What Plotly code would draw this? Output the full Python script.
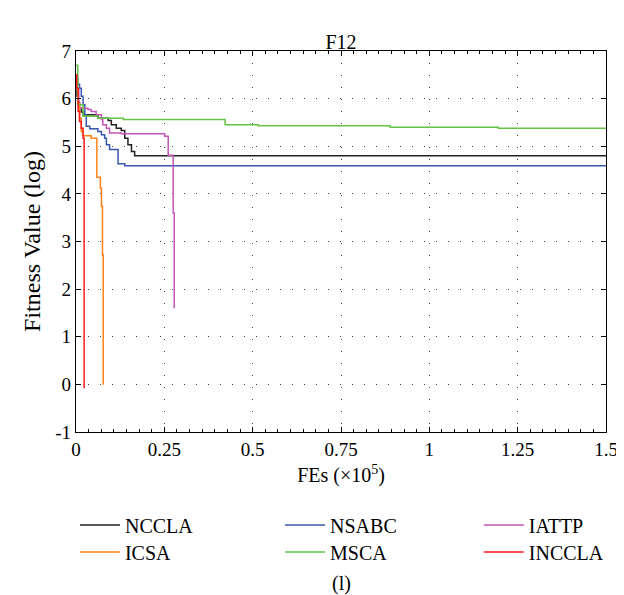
import plotly.graph_objects as go

# ---- data (FEs in units of 1e5, fitness in log10) ----
nccla_x = [0, 0.003, 0.006, 0.010, 0.015, 0.020, 0.062, 0.091, 0.100, 0.114, 0.128, 0.138, 0.147, 0.157, 0.166, 1.5]
nccla_y = [6.25, 6.05, 5.92, 5.80, 5.72, 5.66, 5.59, 5.54, 5.45, 5.38, 5.33, 5.17, 5.03, 4.89, 4.80, 4.80]

nsabc_x = [0, 0.005, 0.010, 0.015, 0.020, 0.025, 0.029, 0.039, 0.062, 0.072, 0.081, 0.086, 0.095, 0.119, 0.138, 1.5]
nsabc_y = [6.45, 6.30, 6.22, 6.05, 5.87, 5.66, 5.42, 5.37, 5.31, 5.24, 5.17, 5.03, 4.93, 4.63, 4.59, 4.59]

iattp_x = [0, 0.003, 0.008, 0.034, 0.043, 0.057, 0.072, 0.076, 0.086, 0.095, 0.128, 0.251, 0.261, 0.275, 0.278]
iattp_y = [6.50, 6.20, 5.80, 5.77, 5.73, 5.66, 5.56, 5.45, 5.38, 5.28, 5.26, 5.21, 4.81, 3.60, 1.60]

icsa_x = [0, 0.005, 0.010, 0.015, 0.020, 0.043, 0.059, 0.069, 0.072, 0.075, 0.077]
icsa_y = [6.20, 5.90, 5.59, 5.31, 5.22, 5.17, 4.35, 4.12, 3.74, 2.72, -0.01]

msca_x = [0, 0.005, 0.020, 0.062, 0.134, 0.422, 0.516, 0.889, 1.195, 1.5]
msca_y = [6.70, 5.87, 5.63, 5.59, 5.56, 5.45, 5.43, 5.40, 5.38, 5.38]

inccla_x = [0, 0.002, 0.006, 0.010, 0.015, 0.020, 0.023]
inccla_y = [6.50, 6.22, 5.73, 5.52, 5.38, 5.17, -0.08]

x_ticks = [0, 0.25, 0.5, 0.75, 1, 1.25, 1.5]
x_tick_labels = ["0", "0.25", "0.5", "0.75", "1", "1.25", "1.5"]
y_ticks = [-1, 0, 1, 2, 3, 4, 5, 6, 7]
y_tick_labels = ["-1", "0", "1", "2", "3", "4", "5", "6", "7"]

# (name, x, y, colour, legend slot)
series = [
    ("NCCLA", nccla_x, nccla_y, "#222222", "legend"),
    ("NSABC", nsabc_x, nsabc_y, "#3a57b0", "legend2"),
    ("IATTP", iattp_x, iattp_y, "#c456b8", "legend3"),
    ("ICSA", icsa_x, icsa_y, "#ff8019", "legend4"),
    ("MSCA", msca_x, msca_y, "#66c244", "legend5"),
    ("INCCLA", inccla_x, inccla_y, "#ff1a1a", "legend6"),
]

FONT = "Liberation Serif"
fig = go.Figure()
for name, xs, ys, col, leg in series:
    fig.add_trace(go.Scatter(x=xs, y=ys, mode="lines", name=name, legend=leg,
                             line=dict(color=col, width=1.5, shape="hv")))

axis_common = dict(showline=True, linecolor="black", linewidth=1.2, mirror="allticks",
                   ticks="inside", ticklen=5, tickcolor="black", zeroline=False,
                   showgrid=True, gridcolor="#444444", gridwidth=1, griddash="1px,11px",
                   automargin=False,
                   tickfont=dict(family=FONT, size=19, color="black"))

fig.update_xaxes(range=[0, 1.5], tickvals=x_ticks, ticktext=x_tick_labels,
                 title=dict(text="FEs (×10<sup>5</sup>)", font=dict(family=FONT, size=20, color="black"), standoff=9),
                 minor=dict(ticks="inside", ticklen=3, dtick=0.25 / 7, tickcolor="black", showgrid=False),
                 **axis_common)
fig.update_yaxes(range=[-1, 7], tickvals=y_ticks, ticktext=y_tick_labels,
                 title=dict(text="Fitness Value (log)", font=dict(family=FONT, size=24, color="black"), standoff=7),
                 **axis_common)

leg_common = dict(orientation="v", yanchor="middle", xanchor="left",
                  font=dict(family=FONT, size=20, color="black"), itemwidth=40,
                  bgcolor="rgba(0,0,0,0)", tracegroupgap=0)
col_x = [-0.002, 0.385, 0.760]
row_y = [-0.244, -0.315]

fig.update_layout(
    width=624, height=595,
    margin=dict(l=68, r=26, t=43, b=171, autoexpand=False),
    paper_bgcolor="white", plot_bgcolor="white",
    title=dict(text="F12", x=0.5, xref="paper", y=1, yref="paper", yanchor="bottom",
               pad=dict(b=2), font=dict(family=FONT, size=20, color="black")),
    showlegend=True,
    legend=dict(x=col_x[0], y=row_y[0], **leg_common),
    legend2=dict(x=col_x[1], y=row_y[0], **leg_common),
    legend3=dict(x=col_x[2], y=row_y[0], **leg_common),
    legend4=dict(x=col_x[0], y=row_y[1], **leg_common),
    legend5=dict(x=col_x[1], y=row_y[1], **leg_common),
    legend6=dict(x=col_x[2], y=row_y[1], **leg_common),
    annotations=[dict(text="(l)", x=0.5, y=-0.398, xref="paper", yref="paper",
                      showarrow=False, yanchor="middle",
                      font=dict(family=FONT, size=20, color="black"))],
)

fig.write_html("out.html")
